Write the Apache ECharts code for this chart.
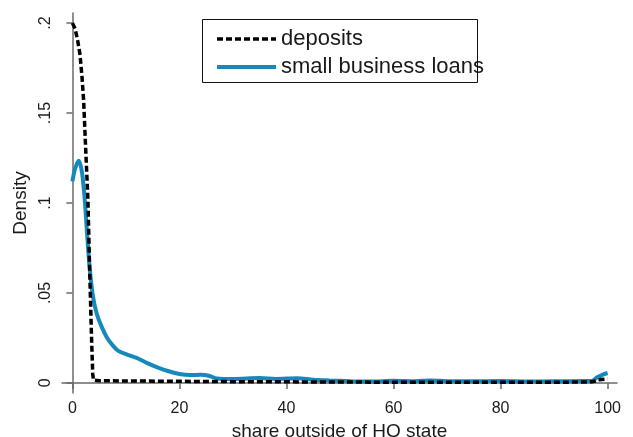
<!DOCTYPE html>
<html>
<head>
<meta charset="utf-8">
<script src="https://cdn.jsdelivr.net/npm/echarts@6/dist/echarts.min.js"></script>
<style>
  html, body { margin: 0; padding: 0; background: #fff; }
  #chart { width: 633px; height: 437px; }
</style>
</head>
<body>
<div id="chart"></div>
<script>
var xTicks = [0, 20, 40, 60, 80, 100];
var yTicks = [0, 0.05, 0.1, 0.15, 0.2];
var yTickLabels = ['0', '.05', '.1', '.15', '.2'];

// deposits density
var depX = [0, 0.5, 1, 1.4, 1.8, 2.1, 2.5, 2.9, 3.2, 3.55, 3.8, 3.95, 5, 10, 20, 30, 40, 50, 60, 70, 80, 90, 96.5, 97.5, 98.2, 100];
var depY = [0.2, 0.197, 0.19, 0.183, 0.17, 0.157, 0.129, 0.102, 0.066, 0.028, 0.005, 0.0015, 0.0012, 0.0011, 0.0009, 0.0007, 0.0006, 0.0005, 0.0004, 0.0004, 0.0004, 0.0004, 0.0005, 0.0009, 0.0018, 0.0022];

// small business loans density
var loanX = [0, 0.5, 1.2, 1.8, 2.3, 2.7, 3.2, 3.8, 4.5, 5.5, 6.5, 7.5, 8.5, 10, 12, 14, 16, 18, 20, 22, 24, 25.5, 27, 30, 35, 38, 42, 45, 48, 52, 56, 60, 64, 67, 70, 75, 80, 85, 90, 94, 97, 98, 99, 100];
var loanY = [0.112, 0.119, 0.1235, 0.117, 0.102, 0.085, 0.065, 0.049, 0.039, 0.031, 0.025, 0.021, 0.018, 0.016, 0.0139, 0.011, 0.0085, 0.0065, 0.005, 0.0044, 0.0045, 0.004, 0.0025, 0.0022, 0.0027, 0.0022, 0.0026, 0.0018, 0.0014, 0.001, 0.0008, 0.0012, 0.0009, 0.0014, 0.001, 0.0009, 0.0011, 0.0008, 0.0009, 0.001, 0.0011, 0.003, 0.0045, 0.0055];

function pairs(xs, ys) {
    return xs.map(function (x, i) { return [x, ys[i]]; });
}

var font = 'Liberation Sans, Arial, Helvetica, sans-serif';
var axisGray = '#6a6a6a';
var blue = '#1689bc';

var myChart = echarts.init(document.getElementById('chart'));
var option = {
    animation: false,
    backgroundColor: '#fff',
    textStyle: { fontFamily: font, color: '#1a1a1a' },
    grid: { left: 62, right: 16, top: 13, bottom: 44, outerBoundsMode: 'none' },
    legend: {
        orient: 'vertical',
        left: 210,
        top: 23,
        itemWidth: 59,
        itemHeight: 14,
        itemGap: 6,
        itemStyle: { opacity: 0 },
        textStyle: { fontSize: 22, color: '#1a1a1a', fontFamily: font, lineHeight: 22 },
        data: [
            { name: 'deposits', lineStyle: { width: 3.5, color: '#000', type: [6, 3] } },
            { name: 'small business loans', lineStyle: { width: 4, color: blue } }
        ]
    },
    graphic: [{
        type: 'rect',
        shape: { x: 202.5, y: 19.5, width: 275, height: 63 },
        style: { fill: 'none', stroke: '#111', lineWidth: 1 },
        z: 100
    }],
    xAxis: {
        type: 'value',
        min: -1.94,
        max: 101.75,
        name: 'share outside of HQ state',
        nameLocation: 'middle',
        nameGap: 24,
        nameTextStyle: { fontSize: 19, color: '#1a1a1a' },
        splitLine: { show: false },
        axisLine: { show: true, lineStyle: { color: axisGray, width: 1.5 } },
        axisTick: { show: true, length: 6, customValues: xTicks, lineStyle: { color: axisGray, width: 1.5 } },
        axisLabel: { fontSize: 16, color: '#1a1a1a', margin: 8, customValues: xTicks }
    },
    yAxis: {
        type: 'value',
        min: -0.0056,
        max: 0.2056,
        name: 'Density',
        nameLocation: 'middle',
        nameGap: 23,
        nameRotate: 90,
        nameTextStyle: { fontSize: 19, color: '#1a1a1a' },
        splitLine: { show: false },
        axisLine: { show: true, lineStyle: { color: axisGray, width: 1.5 } },
        axisTick: { show: true, length: 6, customValues: yTicks, lineStyle: { color: axisGray, width: 1.5 } },
        axisLabel: {
            fontSize: 16, color: '#1a1a1a', margin: 8, rotate: 90,
            customValues: yTicks,
            formatter: function (v) {
                var i = yTicks.findIndex(function (t) { return Math.abs(t - v) < 1e-9; });
                return i >= 0 ? yTickLabels[i] : '';
            }
        }
    },
    series: [
        {
            name: 'deposits',
            type: 'line',
            symbol: 'none',
            data: pairs(depX, depY),
            lineStyle: { color: '#000', width: 3.5, type: [6, 3] },
            itemStyle: { color: '#000' },
            z: 3
        },
        {
            name: 'small business loans',
            type: 'line',
            symbol: 'none',
            smooth: 0.3,
            data: pairs(loanX, loanY),
            lineStyle: { color: blue, width: 4 },
            itemStyle: { color: blue },
            z: 2
        }
    ]
};
myChart.setOption(option);
</script>
</body>
</html>
